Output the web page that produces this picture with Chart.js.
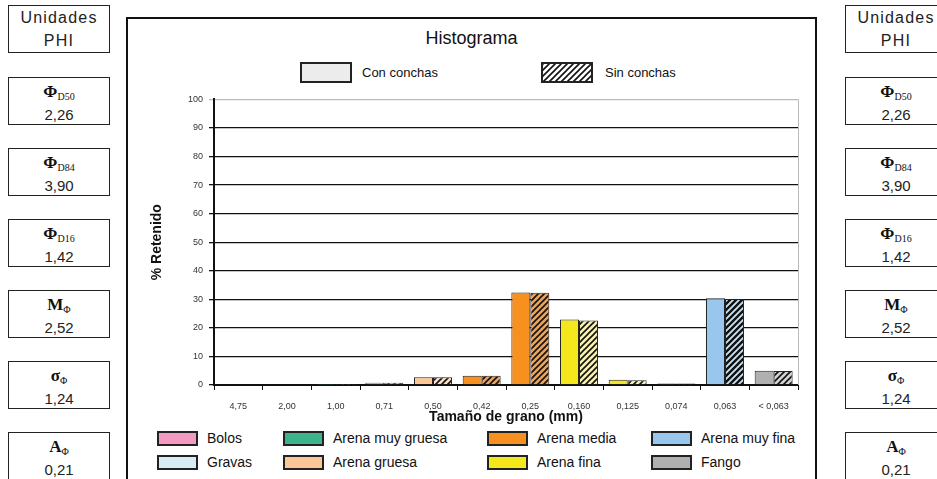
<!DOCTYPE html>
<html lang="es">
<head>
<meta charset="UTF-8">
<title>Histograma</title>
<script src="https://cdn.jsdelivr.net/npm/chart.js"></script>
<style>
  body { margin: 0; width: 937px; height: 479px; background: #fff; position: relative; overflow: hidden; font-family: Arial, "Liberation Sans", sans-serif; }
  .panel { position: absolute; width: 102px; height: 48px; border: 1.5px solid #222; background: #fff; text-align: center; box-sizing: border-box; }
  .panel .sym { font-family: "Liberation Serif", serif; font-weight: bold; font-size: 17px; line-height: 18px; margin-top: 5px; color: #111; }
  .panel .sym sub { font-size: 10px; font-weight: normal; vertical-align: -3px; }
  .panel .val { font-size: 15px; line-height: 18px; color: #222; }
  .panel.head div { font-size: 16px; line-height: 23px; color: #222; letter-spacing: 1.2px; }
  .frame { position: absolute; left: 126px; top: 17px; width: 691px; height: 480px; border: 2px solid #111; border-bottom: none; box-sizing: border-box; }
  .title { position: absolute; left: 126px; width: 691px; top: 28px; text-align: center; font-size: 18px; color: #111; }
  .sw { position: absolute; box-sizing: border-box; border: 2px solid #222; }
  .lg { position: absolute; font-size: 14px; color: #111; line-height: 15px; }
  .top .lg { font-size: 13px; }
  #chartBox { position: absolute; left: 126px; top: 88px; width: 690px; height: 340px; }
</style>
</head>
<body>
<div class="frame"></div>
<div class="title">Histograma</div>
<div id="panels"></div>
<div id="legends"></div>
<div id="chartBox"><canvas id="histo" width="690" height="340"></canvas></div>

<script>
// grain size classes (mm) and % retained for each sample
const sizes = ['4,75', '2,00', '1,00', '0,71', '0,50', '0,42', '0,25', '0,160', '0,125', '0,074', '0,063', '< 0,063'];
const conConchas = [0.3, 0, 0.1, 0.8, 2.7, 3.2, 32.4, 22.9, 1.8, 0.5, 30.4, 5.0];
const sinConchas = [0.3, 0, 0.1, 0.8, 2.7, 3.2, 32.3, 22.6, 1.7, 0.5, 30.1, 4.9];
const yTicks = [0, 10, 20, 30, 40, 50, 60, 70, 80, 90, 100];

// sediment class of each size and its colours
const classNames = ['Bolos', 'Gravas', 'Arena muy gruesa', 'Arena gruesa', 'Arena media', 'Arena fina', 'Arena muy fina', 'Fango'];
const classColors = ['#f29ac0', '#d6edf6', '#3db38c', '#fcc796', '#f7901e', '#f4e71c', '#99c6ec', '#b0b0b0'];
const classLight = ['#f7c4da', '#e8f5fa', '#8fd6bd', '#fde0c4', '#f0a355', '#f8f2a8', '#c9e2f7', '#d4d4d4'];
const sizeClass = [1, 2, 2, 3, 3, 4, 4, 5, 5, 6, 6, 7];

// PHI statistics shown in the side boxes
const statSymbols = ['Φ<sub>D50</sub>', 'Φ<sub>D84</sub>', 'Φ<sub>D16</sub>', 'M<sub>Φ</sub>', 'σ<sub>Φ</sub>', 'A<sub>Φ</sub>'];
const statValues = ['2,26', '3,90', '1,42', '2,52', '1,24', '0,21'];

function hatch(bg, line, w) {
  const c = document.createElement('canvas');
  c.width = c.height = 6;
  const g = c.getContext('2d');
  g.fillStyle = bg;
  g.fillRect(0, 0, 6, 6);
  g.strokeStyle = line;
  g.lineWidth = w;
  g.beginPath();
  g.moveTo(-1, 7); g.lineTo(7, -1);
  g.moveTo(-1, 1); g.lineTo(1, -1);
  g.moveTo(5, 7); g.lineTo(7, 5);
  g.stroke();
  return c;
}

// side boxes, left and right
const panels = document.getElementById('panels');
[8, 845].forEach(x => {
  let html = `<div class="panel head" style="left:${x}px;top:5px"><div>Unidades</div><div>PHI</div></div>`;
  statSymbols.forEach((s, i) => {
    const top = 77 + i * 71;
    html += `<div class="panel" style="left:${x}px;top:${top}px;height:${i === 5 ? 50 : 48}px"><div class="sym">${s}</div><div class="val">${statValues[i]}</div></div>`;
  });
  panels.insertAdjacentHTML('beforeend', html);
});

// legends
const legends = document.getElementById('legends');
const hatchCanvas = hatch('#ffffff', '#111', 1.6);
let lg = `<div class="top">
  <div class="sw" style="left:300px;top:62px;width:52px;height:21px;background:#ececec"></div>
  <div class="lg" style="left:362px;top:65px">Con conchas</div>
  <div class="sw" style="left:541px;top:62px;width:52px;height:21px;background:url(${hatchCanvas.toDataURL()})"></div>
  <div class="lg" style="left:605px;top:65px">Sin conchas</div></div>`;
const colX = [157, 283, 487, 651];
classNames.forEach((n, i) => {
  const col = Math.floor(i / 2), row = i % 2;
  const top = 431 + row * 24;
  lg += `<div class="sw" style="left:${colX[col]}px;top:${top}px;width:41px;height:15px;background:${classColors[i]}"></div>`;
  lg += `<div class="lg" style="left:${colX[col] + 50}px;top:${top}px">${n}</div>`;
});
legends.insertAdjacentHTML('beforeend', lg);

const ctx = document.getElementById('histo').getContext('2d');
const sinFill = sizes.map((s, i) => {
  const k = sizeClass[i];
  const c = k === 6 ? hatch(classLight[k], '#111', 2.4) : hatch(classLight[k], '#111', 1.6);
  return ctx.createPattern(c, 'repeat');
});

// thin grey border on the right of the plot
const frameRight = {
  id: 'frameRight',
  afterDraw(chart) {
    const { ctx, chartArea: a } = chart;
    ctx.save();
    ctx.strokeStyle = '#bbb';
    ctx.lineWidth = 1;
    ctx.beginPath();
    ctx.moveTo(a.right + 0.5, a.top);
    ctx.lineTo(a.right + 0.5, a.bottom);
    ctx.stroke();
    ctx.restore();
  }
};

new Chart(ctx, {
  type: 'bar',
  data: {
    labels: sizes,
    datasets: [
      {
        label: 'Con conchas',
        data: conConchas,
        backgroundColor: sizeClass.map(k => classColors[k]),
        borderColor: '#222',
        borderWidth: 1
      },
      {
        label: 'Sin conchas',
        data: sinConchas,
        backgroundColor: sinFill,
        borderColor: '#222',
        borderWidth: 1
      }
    ]
  },
  options: {
    responsive: false,
    animation: false,
    layout: { padding: { top: 4, right: 18, left: 0, bottom: 0 } },
    datasets: { bar: { barPercentage: 1, categoryPercentage: 0.78 } },
    plugins: { legend: { display: false }, tooltip: { enabled: false } },
    scales: {
      x: {
        afterFit(s) { s.height = 43; },
        grid: { drawOnChartArea: false, drawTicks: true, tickLength: 5, color: '#111', offset: true },
        border: { color: '#111', width: 2 },
        ticks: { color: '#333', font: { size: 9, family: 'Arial' }, padding: 11, maxRotation: 0, autoSkip: false },
        title: { display: true, text: 'Tamaño de grano (mm)', color: '#111', font: { size: 14, weight: 'bold', family: 'Arial' }, padding: { top: 0, bottom: 2 } }
      },
      y: {
        min: 0,
        max: 100,
        afterFit(s) { s.width = 88; },
        afterBuildTicks(s) { s.ticks = yTicks.map(v => ({ value: v })); },
        grid: { color: c => (c.tick && c.tick.value === 100 ? '#bbb' : '#111'), lineWidth: 1.3, tickLength: 5 },
        border: { color: '#111', width: 2 },
        ticks: { color: '#333', font: { size: 9, family: 'Arial' }, padding: 6 },
        title: { display: true, text: '% Retenido', color: '#111', font: { size: 14, weight: 'bold', family: 'Arial' }, padding: { top: 23, bottom: 0 } }
      }
    }
  },
  plugins: [frameRight]
});
</script>
</body>
</html>
